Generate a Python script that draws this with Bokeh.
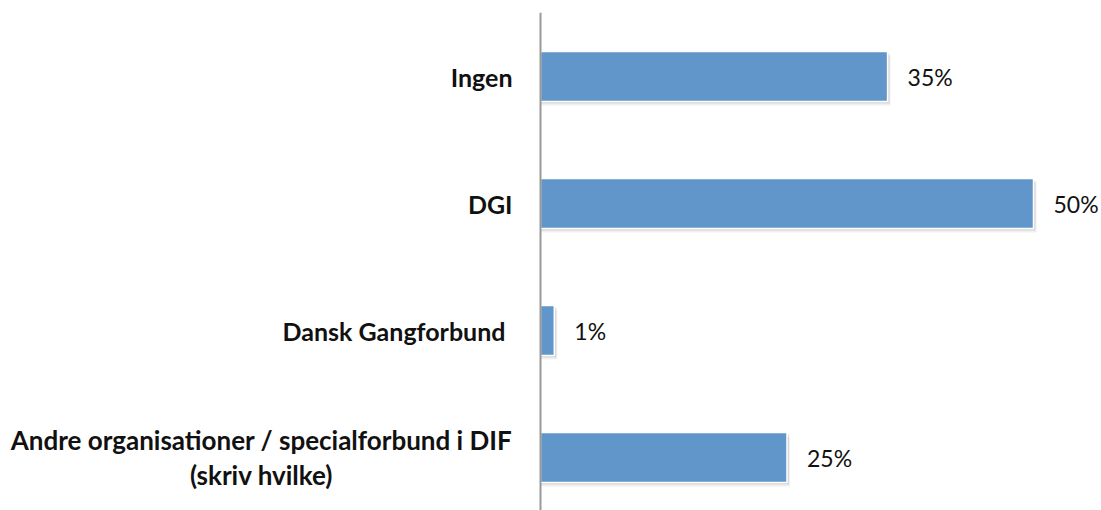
from bokeh.plotting import figure
from bokeh.models import ColumnDataSource, Range1d, Span
from bokeh.core.properties import value
from bokeh.embed import file_html
from bokeh.resources import INLINE

categories = ["Ingen", "DGI", "Dansk Gangforbund",
              "Andre organisationer / specialforbund i DIF\n(skriv hvilke)"]
values = [35.2, 50.0, 1.4, 25.0]
value_labels = ["35%", "50%", "1%", "25%"]

# positions: first category at top
ypos = [len(categories) - 1 - i for i in range(len(categories))]

PX = 9.86      # pixels per percent
BAND = 127.0   # pixels per category
W, H = 1100, 510
AXIS_X = 540   # axis pixel within figure
TOP = 12

x_start = -AXIS_X / PX
x_end = (W - AXIS_X) / PX
y_end = 3 + (76 - TOP) / BAND
y_start = -(H - 457) / BAND

src = ColumnDataSource(dict(
    y=ypos, v=values, lab=value_labels,
    lx=[v + 20 / PX for v in values],
    sy1=[y - 2 / BAND for y in ypos],
    sy2=[y - 4 / BAND for y in ypos],
    sv1=[v + 2 / PX for v in values],
    sv2=[v + 3 / PX for v in values],
))

p = figure(width=W, height=H, output_backend="svg", toolbar_location=None,
           x_range=Range1d(x_start, x_end), y_range=Range1d(y_start, y_end),
           min_border_left=0, min_border_right=0, min_border_top=TOP,
           min_border_bottom=0)
p.axis.visible = False
p.grid.visible = False
p.outline_line_color = None
p.background_fill_color = "white"

bh = 50 / BAND
# soft shadow
p.hbar(y="sy2", right="sv2", left=0, height=bh, source=src,
       fill_color="black", fill_alpha=0.06, line_color=None)
p.hbar(y="sy1", right="sv1", left=0, height=bh, source=src,
       fill_color="black", fill_alpha=0.10, line_color=None)
p.hbar(y="y", right="v", left=0, height=bh, source=src,
       fill_color="#6096C9", line_color="white", line_width=1.5)

p.add_layout(Span(location=0, dimension="height", line_color="#999999",
                  line_width=2))

p.text(x="lx", y="y", text="lab", source=src, text_align="left",
       text_baseline="middle", text_font=value("Lato"),
       text_font_size="23px", text_color="#111111")

# category labels
label_gap = [28, 28, 35]
right_src = ColumnDataSource(dict(y=ypos[:3], t=categories[:3],
                                  x=[-g / PX for g in label_gap]))
p.text(x="x", y="y", text="t", source=right_src, text_align="right",
       text_baseline="middle", text_font=value("Lato"),
       text_font_size="25px", text_font_style="bold", text_color="#111111")
ctr_src = ColumnDataSource(dict(y=ypos[3:], t=categories[3:]))
p.text(x=(261 - 540) / PX, y="y", text="t", source=ctr_src, text_align="center",
       text_baseline="middle", text_font=value("Lato"),
       text_font_size="26px", text_font_style="bold", text_color="#111111",
       text_line_height=1.1)

open("out.html", "w").write(file_html(p, INLINE))
